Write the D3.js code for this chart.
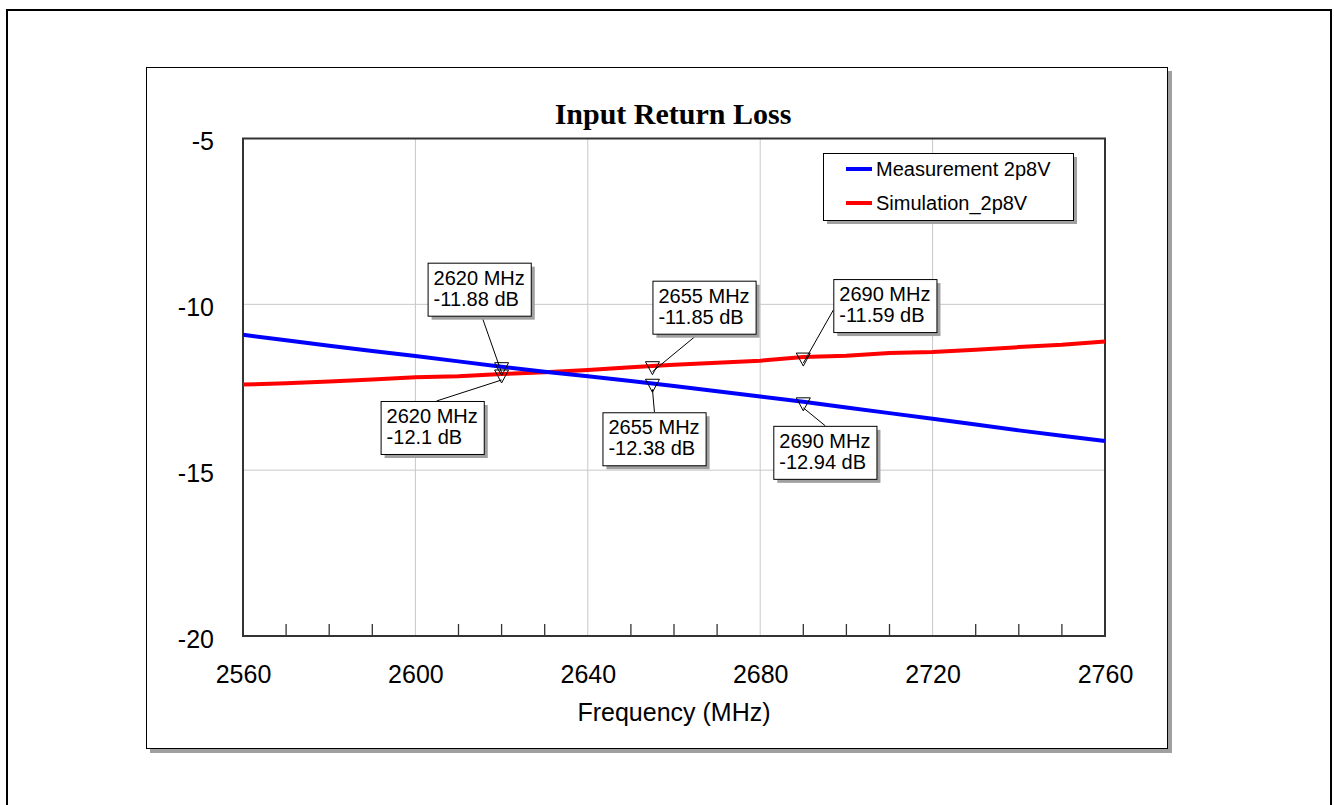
<!DOCTYPE html>
<html>
<head>
<meta charset="utf-8">
<script src="https://cdn.jsdelivr.net/npm/d3@7"></script>
<style>
  body { margin: 0; background: #fff; }
  svg { display: block; font-family: "Liberation Sans", Arial, sans-serif; }
</style>
</head>
<body>
<div id="chart"></div>
<script>
// data
const freqs = [2560, 2570, 2580, 2590, 2600, 2610, 2620, 2630, 2640, 2650, 2660,
               2670, 2680, 2690, 2700, 2710, 2720, 2730, 2740, 2750, 2760];
const measurement = [-10.92, -11.08, -11.25, -11.41, -11.56, -11.72, -11.88, -12.03, -12.17, -12.31, -12.46,
                     -12.62, -12.78, -12.94, -13.11, -13.28, -13.45, -13.62, -13.80, -13.96, -14.12];
const simulation = [-12.42, -12.38, -12.33, -12.27, -12.20, -12.17, -12.10, -12.05, -11.98, -11.90, -11.82,
                    -11.76, -11.70, -11.59, -11.55, -11.47, -11.44, -11.37, -11.29, -11.22, -11.12];
const seriesNames = ['Measurement 2p8V', 'Simulation_2p8V'];
const xTicks = [2560, 2600, 2640, 2680, 2720, 2760];
const yTicks = [-5, -10, -15, -20];
const markerFreqs = [2620, 2655, 2690];
const markerMeas = [-11.88, -12.38, -12.94];
const markerSim = [-12.10, -11.85, -11.59];

const W = 1334, H = 805;
const plot = {left: 243, top: 138.5, right: 1105, bottom: 636};
const font = '"Liberation Sans", Arial, sans-serif';

const svg = d3.select('#chart').append('svg')
  .attr('width', W)
  .attr('height', H);

// page border
svg.append('rect')
  .attr('x', 7).attr('y', 10).attr('width', 1324).attr('height', 820)
  .attr('fill', 'none').attr('stroke', '#000').attr('stroke-width', 2);

// chart frame with shadow
svg.append('rect')
  .attr('x', 150).attr('y', 71).attr('width', 1022).attr('height', 682)
  .attr('fill', '#a0a0a0');
svg.append('rect')
  .attr('x', 146.5).attr('y', 67.5).attr('width', 1021).attr('height', 681)
  .attr('fill', '#fff').attr('stroke', '#000').attr('stroke-width', 1);

const x = d3.scaleLinear().domain([2560, 2760]).range([plot.left, plot.right]);
const y = d3.scaleLinear().domain([-20, -5]).range([plot.bottom, plot.top]);

// grid
const grid = svg.append('g');
grid.selectAll('.vgrid')
  .data(xTicks.slice(1, -1))
  .join('line')
  .attr('x1', d => x(d)).attr('x2', d => x(d))
  .attr('y1', plot.top).attr('y2', plot.bottom)
  .attr('stroke', '#c8c8c8').attr('stroke-width', 1);
grid.selectAll('.hgrid')
  .data(yTicks.slice(1, -1))
  .join('line')
  .attr('y1', d => y(d)).attr('y2', d => y(d))
  .attr('x1', plot.left).attr('x2', plot.right)
  .attr('stroke', '#c8c8c8').attr('stroke-width', 1);

// minor ticks on bottom axis
const minor = d3.range(2570, 2760, 10).filter(d => !xTicks.includes(d));
svg.append('g').selectAll('line')
  .data(minor)
  .join('line')
  .attr('x1', d => x(d)).attr('x2', d => x(d))
  .attr('y1', plot.bottom).attr('y2', plot.bottom - 12)
  .attr('stroke', '#333').attr('stroke-width', 1.3);

// plot box
svg.append('rect')
  .attr('x', plot.left).attr('y', plot.top)
  .attr('width', plot.right - plot.left).attr('height', plot.bottom - plot.top)
  .attr('fill', 'none').attr('stroke', '#333').attr('stroke-width', 2);

// axis labels
const xAxis = d3.axisBottom(x).tickValues(xTicks).tickSize(0).tickPadding(38).tickFormat(d => String(d));
const xg = svg.append('g').attr('transform', `translate(0,${plot.bottom})`).call(xAxis);
xg.select('.domain').remove();
xg.selectAll('text').attr('font-size', 25).attr('fill', '#000')
  .attr('font-family', font).attr('dy', '0.35em');

const yAxis = d3.axisLeft(y).tickValues(yTicks).tickSize(0).tickPadding(29).tickFormat(d => String(d));
const yg = svg.append('g').attr('transform', `translate(${plot.left},0)`).call(yAxis);
yg.select('.domain').remove();
yg.selectAll('text').attr('font-size', 25).attr('fill', '#000')
  .attr('font-family', font).attr('dy', '0.45em');

svg.append('text')
  .attr('x', (plot.left + plot.right) / 2).attr('y', 721)
  .attr('text-anchor', 'middle').attr('font-size', 25)
  .text('Frequency (MHz)');

svg.append('text')
  .attr('x', (plot.left + plot.right) / 2 - 1).attr('y', 124)
  .attr('text-anchor', 'middle').attr('font-size', 30).attr('font-weight', 'bold')
  .attr('font-family', '"Liberation Serif", "Times New Roman", serif')
  .text('Input Return Loss');

// series lines
const line = d3.line().x((d, i) => x(freqs[i])).y(d => y(d));
svg.append('path').datum(simulation)
  .attr('d', line).attr('fill', 'none').attr('stroke', '#ff0000').attr('stroke-width', 4);
svg.append('path').datum(measurement)
  .attr('d', line).attr('fill', 'none').attr('stroke', '#0000ff').attr('stroke-width', 4);

// markers and annotations (box offsets relative to the marker point)
const notes = [
  {f: markerFreqs[0], v: markerMeas[0], dx: -74, dy: -104, ax: 54, ay: 'bottom'},
  {f: markerFreqs[0], v: markerSim[0], dx: -121, dy: 27, ax: 56, ay: 'top'},
  {f: markerFreqs[1], v: markerMeas[1], dx: -50, dy: 29, ax: 52, ay: 'top'},
  {f: markerFreqs[1], v: markerSim[1], dx: 0, dy: -85, ax: 46, ay: 'bottom'},
  {f: markerFreqs[2], v: markerMeas[2], dx: -30, dy: 24, ax: 52, ay: 'top'},
  {f: markerFreqs[2], v: markerSim[2], dx: 30, dy: -78, ax: 0, ay: 'left'}
];

const boxH = 53;
const ann = svg.append('g');
notes.forEach(n => {
  const px = x(n.f), py = y(n.v);
  const bx = px + n.dx, by = py + n.dy;
  const lines = [`${n.f} MHz`, `${n.v} dB`];
  const g = ann.append('g');
  // leader
  let lx = bx + n.ax, ly = n.ay === 'bottom' ? by + boxH : by;
  if (n.ay === 'left') { lx = bx; ly = by + 31; }
  g.append('line')
    .attr('x1', lx).attr('y1', ly).attr('x2', px).attr('y2', py + 6)
    .attr('stroke', '#000').attr('stroke-width', 1);
  // triangle marker
  g.append('path')
    .attr('d', `M${px - 7},${py - 4} L${px + 7},${py - 4} L${px},${py + 9} Z`)
    .attr('fill', 'none').attr('stroke', '#000').attr('stroke-width', 1);
  const shadow = g.append('rect');
  const box = g.append('rect');
  const t = g.append('text').attr('font-size', 20).attr('fill', '#000');
  lines.forEach((s, i) => {
    t.append('tspan').attr('x', bx + 6).attr('y', by + 22 + i * 21).text(s);
  });
  const bw = Math.max(t.node().getBBox().width + 12, 103);
  shadow.attr('x', bx + 4).attr('y', by + 4).attr('width', bw).attr('height', boxH)
    .attr('fill', '#a0a0a0');
  box.attr('x', bx + 0.5).attr('y', by + 0.5).attr('width', bw).attr('height', boxH)
    .attr('fill', '#fff').attr('stroke', '#000').attr('stroke-width', 1);
});

// legend
const lg = svg.append('g').attr('transform', 'translate(823,153)');
lg.append('rect').attr('x', 4).attr('y', 4).attr('width', 250).attr('height', 67).attr('fill', '#a0a0a0');
lg.append('rect').attr('x', 0.5).attr('y', 0.5).attr('width', 250).attr('height', 67)
  .attr('fill', '#fff').attr('stroke', '#000').attr('stroke-width', 1);
const colors = ['#0000ff', '#ff0000'];
seriesNames.forEach((name, i) => {
  const yy = 16 + i * 34;
  lg.append('line').attr('x1', 23).attr('x2', 49).attr('y1', yy).attr('y2', yy)
    .attr('stroke', colors[i]).attr('stroke-width', 4);
  lg.append('text').attr('x', 53).attr('y', yy + 7).attr('font-size', 20).text(name);
});
</script>
</body>
</html>
